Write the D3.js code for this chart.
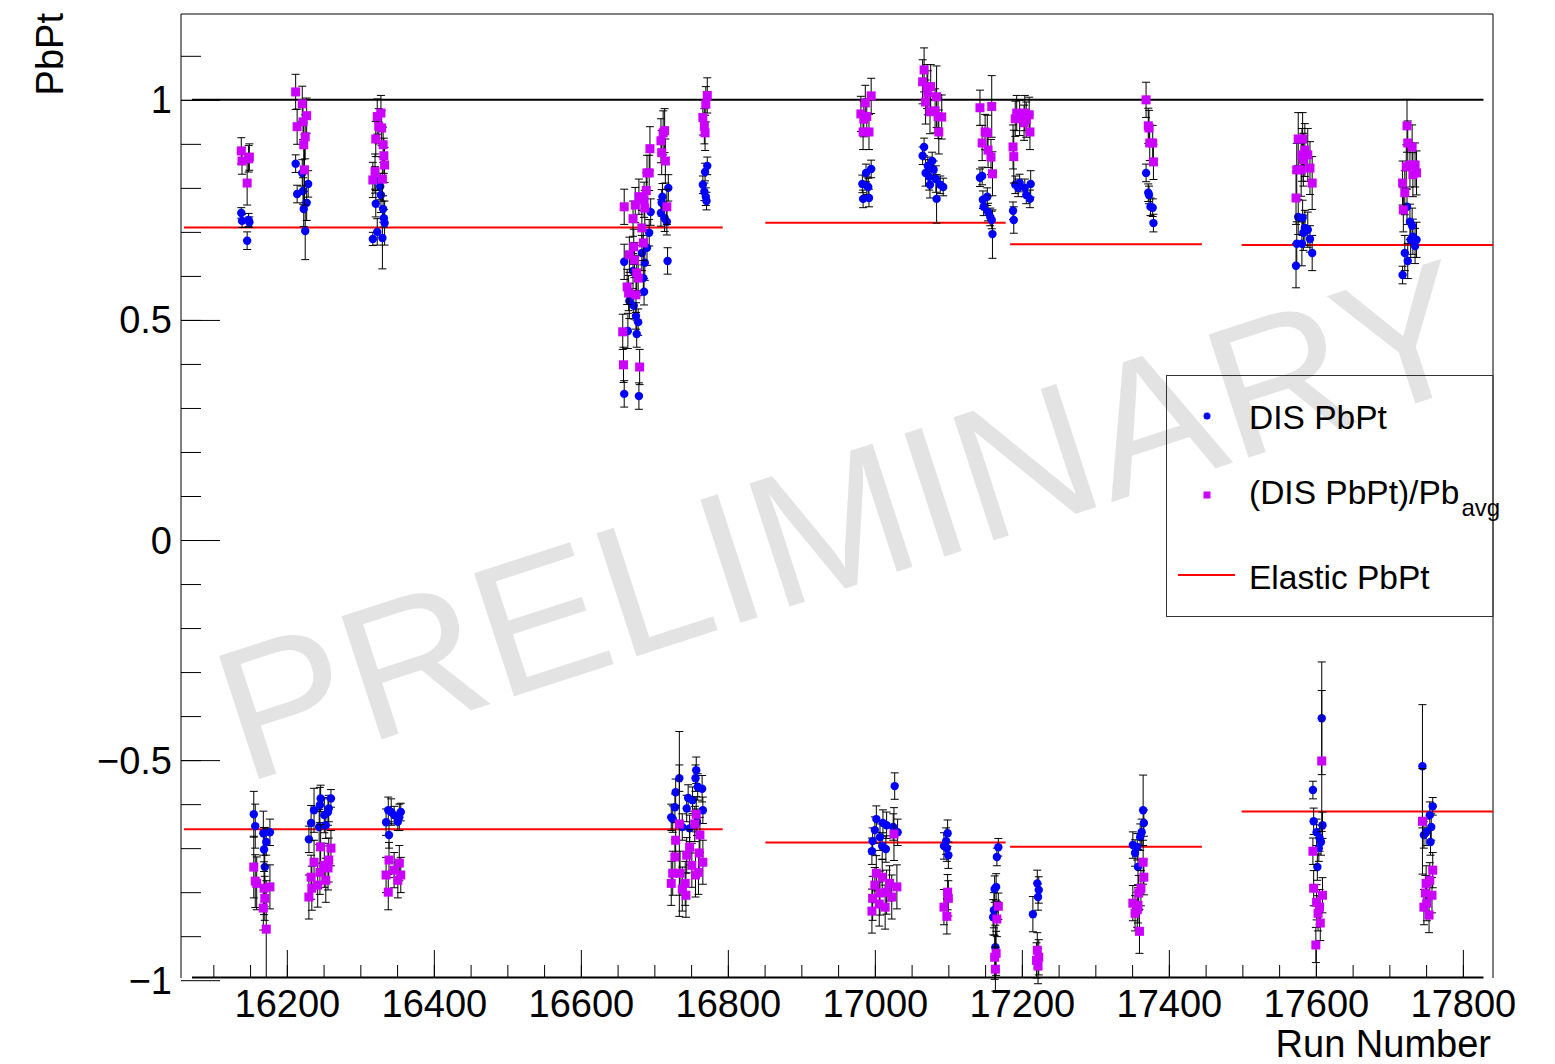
<!DOCTYPE html>
<html>
<head>
<meta charset="utf-8">
<script src="https://cdn.jsdelivr.net/npm/d3@7"></script>
<style>
  body { margin: 0; background: #fff; }
  svg text { font-family: "Liberation Sans", Arial, Helvetica, sans-serif; }
</style>
</head>
<body>
<svg id="chart" width="1555" height="1064"></svg>
<script>
// DIS PbPt per run: [run number, value, error]
const disPbPt = [
  // 16140 block
  [16138,0.743,0.012],[16139,0.725,0.015],[16146,0.680,0.02],[16148,0.727,0.015],[16149,0.722,0.012],
  [16155,-0.623,0.052],[16157,-0.650,0.05],[16168,-0.666,0.05],[16177,-0.664,0.03],[16172,-0.686,0.03],[16169,-0.703,0.05],[16170,-0.743,0.09],
  // 16220 block
  [16212,0.855,0.02],[16214,0.786,0.02],[16221,0.834,0.03],[16222,0.793,0.03],[16223,0.752,0.04],[16225,0.702,0.065],[16227,0.766,0.04],[16229,0.809,0.03],
  [16230,-0.680,0.03],[16233,-0.643,0.04],[16237,-0.614,0.05],[16244,-0.652,0.04],[16245,-0.602,0.04],[16246,-0.587,0.03],[16251,-0.625,0.04],[16253,-0.648,0.03],[16256,-0.618,0.03],[16260,-0.587,0.02],[16257,-0.610,0.03],
  // 16330 block
  [16320,0.818,0.03],[16327,0.803,0.03],[16328,0.784,0.04],[16321,0.764,0.03],[16331,0.752,0.03],[16332,0.731,0.02],[16333,0.720,0.05],[16323,0.700,0.03],[16317,0.684,0.015],[16330,0.686,0.07],
  [16338,-0.614,0.03],[16342,-0.618,0.03],[16335,-0.641,0.03],[16339,-0.670,0.03],[16355,-0.618,0.02],[16353,-0.630,0.03],[16346,-0.625,0.02],[16351,-0.640,0.02],
  // 16690 block
  [16719,0.800,0.03],[16711,0.780,0.03],[16710,0.766,0.03],[16709,0.743,0.03],[16717,0.723,0.03],[16714,0.731,0.03],[16695,0.745,0.03],[16693,0.698,0.03],
  [16690,0.664,0.04],[16683,0.652,0.04],[16687,0.630,0.04],[16659,0.632,0.04],[16671,0.611,0.04],[16685,0.595,0.03],[16686,0.564,0.03],[16666,0.543,0.04],
  [16672,0.532,0.03],[16675,0.509,0.03],[16678,0.495,0.03],[16664,0.475,0.04],[16676,0.468,0.03],[16659,0.332,0.03],[16679,0.327,0.03],[16718,0.634,0.03],
  [16772,0.850,0.02],[16769,0.836,0.02],[16766,0.807,0.02],[16768,0.791,0.02],[16770,0.780,0.02],[16771,0.770,0.02],
  [16734,-0.541,0.03],[16757,-0.523,0.03],[16756,-0.541,0.03],[16729,-0.573,0.03],[16759,-0.561,0.03],[16765,-0.565,0.03],[16746,-0.586,0.03],[16752,-0.591,0.03],
  [16728,-0.607,0.03],[16766,-0.614,0.03],[16744,-0.610,0.03],[16725,-0.634,0.03],[16738,-0.652,0.03],[16748,-0.655,0.03],[16723,-0.630,0.03],[16758,-0.641,0.03],
  // 17000 block
  [16995,0.843,0.02],[16988,0.834,0.02],[16983,0.809,0.02],[16989,0.805,0.02],[16991,0.802,0.02],[16984,0.775,0.02],[16992,0.777,0.02],
  [17027,-0.559,0.03],[17002,-0.634,0.03],[17000,-0.659,0.03],[17011,-0.643,0.03],[17016,-0.648,0.03],[17025,-0.652,0.03],[17031,-0.664,0.03],[16997,-0.684,0.03],
  [17007,-0.675,0.03],[17010,-0.695,0.03],[17015,-0.702,0.03],[16996,-0.707,0.03],
  // 17080 block
  [17067,0.893,0.02],[17065,0.873,0.02],[17078,0.861,0.02],[17072,0.850,0.02],[17069,0.834,0.03],[17074,0.825,0.03],[17083,0.820,0.03],[17075,0.807,0.03],
  [17089,0.807,0.02],[17093,0.802,0.02],[17084,0.775,0.055],[17080,0.841,0.02],
  [17099,-0.666,0.03],[17097,-0.684,0.03],[17094,-0.695,0.03],[17098,-0.700,0.03],[17100,-0.716,0.03],
  // 17150 block
  [17143,0.823,0.02],[17146,0.827,0.02],[17153,0.780,0.02],[17147,0.773,0.02],[17148,0.757,0.02],[17154,0.745,0.02],[17157,0.734,0.02],[17159,0.727,0.02],[17160,0.695,0.055],
  [17168,-0.698,0.02],[17166,-0.720,0.02],[17165,-0.788,0.03],[17163,-0.793,0.03],[17162,-0.841,0.04],[17161,-0.857,0.04],[17164,-0.925,0.05],
  // 17200 block
  [17188,0.748,0.02],[17189,0.727,0.03],[17191,0.807,0.02],[17197,0.811,0.02],[17195,0.800,0.02],[17204,0.800,0.02],[17212,0.809,0.03],[17206,0.784,0.02],[17211,0.775,0.02],
  [17221,-0.780,0.03],[17223,-0.795,0.03],[17222,-0.811,0.03],[17215,-0.850,0.04],
  // 17370 block
  [17369,0.834,0.02],[17372,0.789,0.02],[17373,0.784,0.02],[17375,0.757,0.02],[17378,0.755,0.02],[17379,0.720,0.02],
  [17365,-0.614,0.08],[17366,-0.643,0.03],[17363,-0.664,0.03],[17361,-0.675,0.03],[17351,-0.693,0.03],[17357,-0.697,0.03],[17354,-0.711,0.03],[17358,-0.743,0.04],
  // 17590 block
  [17576,0.734,0.04],[17582,0.732,0.04],[17585,0.709,0.04],[17589,0.705,0.04],[17583,0.698,0.04],[17592,0.684,0.03],[17574,0.673,0.05],[17581,0.673,0.05],[17595,0.652,0.04],[17573,0.623,0.05],
  [17608,-0.405,0.128],[17596,-0.568,0.02],[17597,-0.639,0.03],[17609,-0.648,0.03],[17601,-0.664,0.03],[17605,-0.677,0.03],[17607,-0.686,0.03],[17604,-0.700,0.03],[17602,-0.743,0.03],
  // 17730 block
  [17724,0.757,0.04],[17728,0.723,0.04],[17731,0.714,0.04],[17732,0.689,0.04],[17729,0.682,0.04],[17737,0.682,0.04],[17735,0.668,0.04],[17721,0.652,0.04],[17725,0.634,0.04],[17718,0.602,0.02],
  [17745,-0.514,0.14],[17759,-0.605,0.02],[17755,-0.625,0.03],[17757,-0.652,0.03],[17750,-0.664,0.03],[17756,-0.686,0.03],[17747,-0.670,0.03]
];

// (DIS PbPt)/Pb_avg per run: [run number, value, error]
const disPbPtOverPbAvg = [
  [16138,0.884,0.03],[16139,0.861,0.03],[16146,0.811,0.05],[16148,0.866,0.03],[16149,0.870,0.03],
  [16155,-0.743,0.07],[16157,-0.775,0.06],[16159,-0.780,0.06],[16169,-0.791,0.06],[16177,-0.788,0.05],[16170,-0.814,0.05],[16168,-0.836,0.05],[16172,-0.884,0.11],
  [16212,1.018,0.04],[16214,0.939,0.04],[16221,0.991,0.04],[16227,0.964,0.04],[16222,0.950,0.04],[16225,0.916,0.05],[16223,0.898,0.05],[16224,0.841,0.08],
  [16246,-0.697,0.05],[16260,-0.700,0.04],[16237,-0.732,0.05],[16257,-0.727,0.05],[16251,-0.739,0.05],[16233,-0.766,0.05],[16245,-0.755,0.05],[16253,-0.773,0.05],
  [16242,-0.784,0.05],[16234,-0.791,0.05],[16230,-0.811,0.05],[16256,-0.745,0.05],
  [16323,0.962,0.04],[16328,0.970,0.04],[16325,0.940,0.04],[16329,0.936,0.04],[16321,0.911,0.04],[16331,0.898,0.04],[16332,0.873,0.04],[16333,0.852,0.04],
  [16320,0.837,0.04],[16317,0.818,0.04],[16330,0.820,0.05],
  [16339,-0.727,0.04],[16353,-0.734,0.04],[16335,-0.761,0.04],[16346,-0.750,0.04],[16351,-0.773,0.04],[16338,-0.800,0.04],[16355,-0.761,0.04],
  [16659,0.757,0.04],[16674,0.761,0.04],[16671,0.730,0.04],[16679,0.780,0.04],[16686,0.773,0.04],[16687,0.754,0.04],[16689,0.794,0.04],[16690,0.834,0.04],
  [16693,0.834,0.04],[16694,0.889,0.05],[16709,0.907,0.05],[16710,0.880,0.05],[16715,0.861,0.05],[16717,0.757,0.04],[16683,0.709,0.04],[16685,0.675,0.04],
  [16672,0.666,0.04],[16666,0.648,0.04],[16673,0.636,0.04],[16676,0.607,0.04],[16678,0.595,0.04],[16663,0.575,0.04],[16665,0.561,0.04],[16675,0.557,0.04],
  [16657,0.473,0.04],[16658,0.398,0.04],[16680,0.393,0.04],[16712,0.925,0.05],[16714,0.930,0.05],
  [16772,1.010,0.04],[16770,0.990,0.04],[16766,0.960,0.04],[16768,0.940,0.04],[16769,0.925,0.04],
  [16734,-0.645,0.21],[16755,-0.645,0.04],[16757,-0.623,0.04],[16729,-0.682,0.04],[16762,-0.670,0.04],[16748,-0.698,0.04],[16744,-0.716,0.04],[16728,-0.720,0.04],
  [16761,-0.711,0.04],[16751,-0.739,0.05],[16766,-0.732,0.05],[16725,-0.757,0.05],[16735,-0.757,0.05],[16756,-0.761,0.05],[16723,-0.780,0.05],[16742,-0.780,0.05],
  [16738,-0.793,0.05],[16743,-0.807,0.05],[16760,-0.755,0.05],
  [16995,1.009,0.04],[16987,0.993,0.04],[16981,0.968,0.04],[16989,0.962,0.04],[16985,0.956,0.04],[16984,0.927,0.04],[16992,0.927,0.04],
  [17026,-0.668,0.06],[17002,-0.757,0.04],[17010,-0.766,0.04],[17000,-0.784,0.04],[17020,-0.780,0.04],[17030,-0.788,0.05],[17016,-0.800,0.05],[17007,-0.802,0.05],
  [16997,-0.814,0.05],[17023,-0.811,0.05],[17006,-0.827,0.05],[17014,-0.834,0.05],[16996,-0.843,0.05],
  [17067,1.068,0.05],[17065,1.041,0.05],[17071,1.030,0.05],[17076,1.030,0.05],[17072,1.016,0.05],[17084,1.007,0.07],[17069,0.995,0.05],[17075,0.973,0.05],
  [17082,0.975,0.05],[17091,0.961,0.05],[17086,0.962,0.05],[17087,0.927,0.05],
  [17099,-0.800,0.04],[17100,-0.814,0.04],[17094,-0.834,0.04],[17098,-0.855,0.04],
  [17143,0.982,0.04],[17159,0.985,0.07],[17150,0.927,0.04],[17153,0.925,0.04],[17146,0.902,0.04],[17154,0.886,0.04],[17158,0.870,0.04],[17160,0.832,0.05],
  [17168,-0.832,0.03],[17166,-0.861,0.04],[17165,-0.939,0.05],[17163,-0.948,0.05],[17164,-0.975,0.05],
  [17188,0.893,0.05],[17189,0.871,0.06],[17193,0.970,0.04],[17197,0.959,0.04],[17191,0.957,0.04],[17204,0.970,0.04],[17210,0.966,0.04],[17203,0.948,0.04],
  [17211,0.927,0.04],[17206,0.955,0.04],
  [17221,-0.932,0.04],[17223,-0.948,0.04],[17222,-0.968,0.04],[17220,-0.955,0.04],
  [17369,1.000,0.04],[17372,0.941,0.04],[17373,0.936,0.04],[17374,0.902,0.04],[17378,0.902,0.04],[17379,0.859,0.04],
  [17365,-0.732,0.05],[17366,-0.766,0.04],[17362,-0.791,0.04],[17359,-0.802,0.04],[17351,-0.825,0.04],[17358,-0.830,0.04],[17354,-0.848,0.04],[17357,-0.840,0.04],[17360,-0.889,0.05],
  [17576,0.911,0.06],[17582,0.911,0.06],[17585,0.886,0.06],[17581,0.875,0.06],[17589,0.875,0.06],[17583,0.864,0.06],[17574,0.841,0.06],[17580,0.841,0.06],
  [17592,0.845,0.06],[17595,0.811,0.06],[17573,0.777,0.06],
  [17608,-0.502,0.16],[17596,-0.707,0.03],[17597,-0.791,0.04],[17609,-0.807,0.04],[17601,-0.823,0.04],[17605,-0.834,0.04],[17603,-0.848,0.04],[17606,-0.870,0.04],[17600,-0.920,0.04],
  [17724,0.941,0.06],[17725,0.902,0.05],[17731,0.893,0.05],[17728,0.852,0.05],[17723,0.848,0.05],[17735,0.852,0.05],[17737,0.834,0.05],[17732,0.830,0.05],
  [17718,0.811,0.05],[17721,0.789,0.05],[17719,0.750,0.05],
  [17745,-0.639,0.12],[17759,-0.750,0.04],[17755,-0.773,0.04],[17750,-0.780,0.04],[17758,-0.807,0.04],[17749,-0.802,0.04],[17751,-0.825,0.04],[17747,-0.834,0.04],[17754,-0.852,0.04]
];

// Elastic PbPt per run period: [first run, last run, value]
const elasticPbPt = [
  [16060,16793,0.710],[16851,17178,0.721],[17184,17445,0.672],[17499,17841,0.670],
  [16060,16793,-0.657],[16851,17178,-0.687],[17184,17445,-0.697],[17499,17841,-0.617]
];

// Reference line at PbPt = 1
const unityLine = [16071, 17828, 1];

const xMajorTicks = [16200,16400,16600,16800,17000,17200,17400,17600,17800];
const xMinorTicks = d3.range(16100, 17801, 50);
const yMajorTicks = [-1,-0.5,0,0.5,1];
const yMinorTicks = d3.range(-9, 12).map(d => d / 10);

const legendEntries = ["DIS PbPt", "(DIS PbPt)/Pb", "Elastic PbPt"];

const COLORS = { dis: "#0000ff", ratio: "#cc00ff", elastic: "#ff0000" };

const svg = d3.select("#chart");
const frame = { left: 181, top: 14, right: 1493, bottom: 978 };

const x = d3.scaleLinear().domain([16056, 17841]).range([frame.left, frame.right]);
const y = d3.scaleLinear().domain([-0.995, 1.195]).range([frame.bottom, frame.top]);

svg.append("rect").attr("width", 1555).attr("height", 1064).attr("fill", "#fff");

// Watermark
svg.append("text")
  .attr("transform", "translate(244,784) rotate(-18)")
  .attr("font-size", 188)
  .attr("fill", "#e3e3e3")
  .attr("textLength", 1305)
  .attr("lengthAdjust", "spacingAndGlyphs")
  .text("PRELIMINARY");

// Frame (left, top, right)
svg.append("path")
  .attr("d", `M${frame.left},${frame.bottom}V${frame.top}H${frame.right}V${frame.bottom}`)
  .attr("fill", "none").attr("stroke", "#000").attr("stroke-width", 1);

// Y axis: ticks drawn inward
const yMinorAxis = d3.axisLeft(y).tickValues(yMinorTicks).tickSize(-20).tickFormat("");
const yMajorAxis = d3.axisLeft(y).tickValues(yMajorTicks).tickSize(-39).tickPadding(9)
  .tickFormat(d3.format("~g"));
const gyMinor = svg.append("g").attr("transform", `translate(${frame.left},0)`).call(yMinorAxis);
const gyMajor = svg.append("g").attr("transform", `translate(${frame.left},0)`).call(yMajorAxis);
[gyMinor, gyMajor].forEach(g => {
  g.select(".domain").remove();
  g.selectAll("line").attr("stroke", "#000").attr("stroke-width", 1);
});
gyMajor.selectAll("text")
  .attr("font-size", 38).attr("fill", "#000").attr("dy", null)
  .attr("dominant-baseline", "central");

// X axis: ticks drawn upward from the axis line
const xMinorAxis = d3.axisBottom(x).tickValues(xMinorTicks).tickSize(-13).tickFormat("");
const xMajorAxis = d3.axisBottom(x).tickValues(xMajorTicks).tickSize(-28).tickFormat(d3.format("d"));
const gxMinor = svg.append("g").attr("transform", `translate(0,${frame.bottom})`).call(xMinorAxis);
const gxMajor = svg.append("g").attr("transform", `translate(0,${frame.bottom})`).call(xMajorAxis);
[gxMinor, gxMajor].forEach(g => {
  g.select(".domain").remove();
  g.selectAll("line").attr("stroke", "#000").attr("stroke-width", 1);
});
gxMajor.selectAll("text")
  .attr("font-size", 38).attr("fill", "#000")
  .attr("y", 39).attr("dy", null);

svg.append("line")
  .attr("x1", x(16071)).attr("x2", x(17828))
  .attr("y1", frame.bottom - 0.5).attr("y2", frame.bottom - 0.5)
  .attr("stroke", "#000").attr("stroke-width", 2);

// Axis titles
svg.append("text")
  .attr("x", 1491).attr("y", 1057)
  .attr("text-anchor", "end").attr("font-size", 38)
  .text("Run Number");
svg.append("text")
  .attr("transform", "translate(63,13) rotate(-90)")
  .attr("text-anchor", "end").attr("font-size", 38)
  .text("PbPt");

// Unity line
svg.append("line")
  .attr("x1", x(unityLine[0])).attr("x2", x(unityLine[1]))
  .attr("y1", y(unityLine[2])).attr("y2", y(unityLine[2]))
  .attr("stroke", "#000").attr("stroke-width", 2);

// Elastic PbPt segments
svg.append("g").selectAll("line").data(elasticPbPt).join("line")
  .attr("x1", d => x(d[0])).attr("x2", d => x(d[1]))
  .attr("y1", d => y(d[2])).attr("y2", d => y(d[2]))
  .attr("stroke", COLORS.elastic).attr("stroke-width", 2);

// Error bars with end caps
function drawErrors(data) {
  const g = svg.append("g").attr("stroke", "#000").attr("stroke-width", 1).attr("fill", "none");
  g.selectAll("path").data(data).join("path")
    .attr("d", d => {
      const cx = x(d[0]), y0 = y(d[1] - d[2]), y1 = y(d[1] + d[2]);
      return `M${cx},${y0}V${y1}M${cx - 4},${y0}H${cx + 4}M${cx - 4},${y1}H${cx + 4}`;
    });
}

drawErrors(disPbPt);
svg.append("g").selectAll("circle").data(disPbPt).join("circle")
  .attr("cx", d => x(d[0])).attr("cy", d => y(d[1])).attr("r", 4.2)
  .attr("fill", COLORS.dis);

drawErrors(disPbPtOverPbAvg);
const sq = 9;
svg.append("g").selectAll("rect").data(disPbPtOverPbAvg).join("rect")
  .attr("x", d => x(d[0]) - sq / 2).attr("y", d => y(d[1]) - sq / 2)
  .attr("width", sq).attr("height", sq)
  .attr("fill", COLORS.ratio);

// Legend
const lg = svg.append("g");
lg.append("rect").attr("x", 1166.5).attr("y", 375.5).attr("width", 326.5).attr("height", 241)
  .attr("fill", "none").attr("stroke", "#333").attr("stroke-width", 1);
lg.append("circle").attr("cx", 1207).attr("cy", 416).attr("r", 3.5).attr("fill", COLORS.dis);
lg.append("rect").attr("x", 1203.5).attr("y", 491.5).attr("width", 7).attr("height", 7).attr("fill", COLORS.ratio);
lg.append("line").attr("x1", 1178).attr("x2", 1235).attr("y1", 575).attr("y2", 575)
  .attr("stroke", COLORS.elastic).attr("stroke-width", 2);
lg.append("text").attr("x", 1249).attr("y", 429).attr("font-size", 33.5).text(legendEntries[0]);
const t2 = lg.append("text").attr("x", 1249).attr("y", 504).attr("font-size", 33.5);
t2.append("tspan").text(legendEntries[1]);
t2.append("tspan").attr("font-size", 24).attr("dy", 12).attr("dx", 2).text("avg");
lg.append("text").attr("x", 1249).attr("y", 589).attr("font-size", 33.5).text(legendEntries[2]);
</script>
</body>
</html>
